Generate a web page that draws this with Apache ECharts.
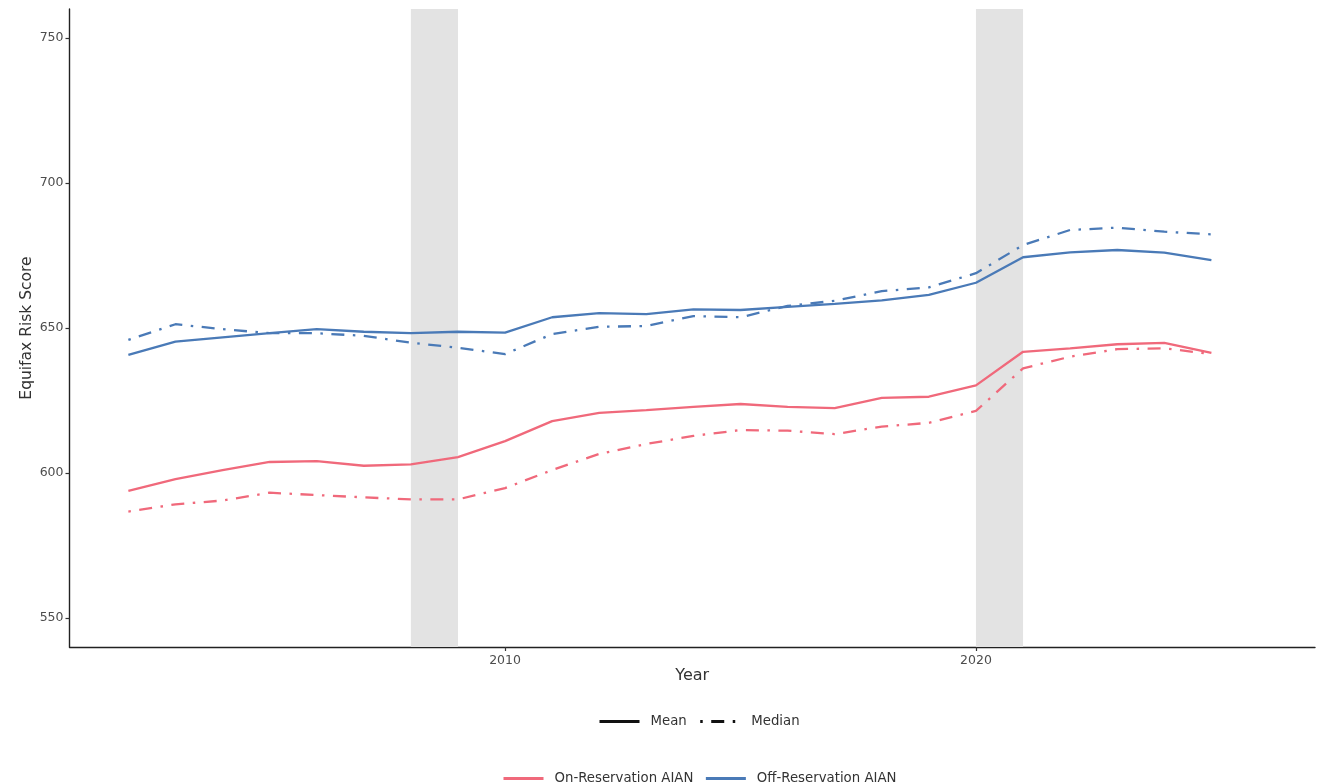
<!DOCTYPE html>
<html>
<head>
<meta charset="utf-8">
<title>Equifax Risk Score, AIAN</title>
<script src="https://cdn.jsdelivr.net/npm/echarts@6/dist/echarts.min.js"></script>
<style>
  html, body { margin: 0; padding: 0; background: #fff; }
  #chart { width: 1322px; height: 783px; }
</style>
</head>
<body>
<div id="chart"></div>
<script>
// Years covered by the panel
const years = [2002, 2003, 2004, 2005, 2006, 2007, 2008, 2009, 2010, 2011, 2012, 2013,
               2014, 2015, 2016, 2017, 2018, 2019, 2020, 2021, 2022, 2023, 2024, 2025];

// On-reservation AIAN
const onResMean   = [593.8, 597.9, 601.0, 603.8, 604.1, 602.5, 603.0, 605.5, 611.0, 617.9, 620.7, 621.7,
                     622.8, 623.8, 622.8, 622.4, 625.9, 626.3, 630.2, 641.8, 643.0, 644.4, 644.9, 641.4];
const onResMedian = [586.7, 589.2, 590.5, 593.2, 592.4, 591.6, 590.9, 590.9, 594.8, 601.0, 606.6, 610.0,
                     612.8, 614.8, 614.6, 613.4, 616.0, 617.3, 621.4, 636.1, 640.1, 642.7, 643.0, 641.0];

// Off-reservation AIAN
const offResMean   = [640.7, 645.3, 646.8, 648.2, 649.6, 648.7, 648.2, 648.7, 648.4, 653.7, 655.1, 654.8,
                      656.4, 656.2, 657.3, 658.3, 659.5, 661.4, 665.6, 674.4, 676.1, 676.9, 676.0, 673.4];
const offResMedian = [645.9, 651.3, 649.6, 648.2, 648.2, 647.3, 644.9, 643.2, 641.0, 647.9, 650.4, 650.7,
                      654.1, 653.7, 657.6, 659.4, 662.7, 664.0, 668.9, 678.6, 683.8, 684.6, 683.2, 682.3];

// Recession bands (start year, end year)
const recessions = [[2008, 2009], [2020, 2021]];

// Axis ticks
const xTicks = [2010, 2020];
const yTicks = [550, 600, 650, 700, 750];

const groupNames = ['On-Reservation AIAN', 'Off-Reservation AIAN'];
const statNames = ['Mean', 'Median'];

const RED = '#F0697B';
const BLUE = '#4A7AB7';
const DASH_DOT = [2.5, 8.5, 13, 8.5];
const LW = 2.3;

const pair = (arr) => years.map((y, i) => [y, arr[i]]);

function lineSeries(name, data, color, dashed, extra) {
  return Object.assign({
    name: name,
    type: 'line',
    data: data,
    showSymbol: false,
    symbol: 'none',
    smooth: false,
    silent: true,
    z: 3,
    itemStyle: { color: color },
    lineStyle: { color: color, width: LW, type: dashed ? DASH_DOT : 'solid' }
  }, extra || {});
}

const chart = echarts.init(document.getElementById('chart'), null, { renderer: 'canvas' });

const axisLabelStyle = { color: '#4d4d4d', fontSize: 12.5, fontFamily: 'DejaVu Sans' };
const legendText = { color: '#333', fontSize: 13.3, fontFamily: 'DejaVu Sans', padding: [0, 0, 0, 6] };
// Key entries show only the stroke, no point marker
const legendItem = { color: 'transparent', borderColor: 'transparent', borderWidth: 0, opacity: 0 };

chart.setOption({
  backgroundColor: '#ffffff',
  animation: false,
  grid: { left: 69.5, right: 7, top: 9, bottom: 136, containLabel: false },
  xAxis: {
    type: 'value',
    min: 2000.75,
    max: 2027.2,
    name: 'Year',
    nameLocation: 'middle',
    nameGap: 21,
    nameMoveOverlap: false,
    nameTextStyle: { color: '#333', fontSize: 16, fontFamily: 'DejaVu Sans' },
    axisLine: { show: true, onZero: false, lineStyle: { color: '#222', width: 1.4 } },
    axisTick: { show: true, length: 4, customValues: xTicks, lineStyle: { color: '#333', width: 1.2 } },
    axisLabel: Object.assign({ customValues: xTicks, margin: 7, formatter: (v) => String(v) }, axisLabelStyle),
    splitLine: { show: false }
  },
  yAxis: {
    type: 'value',
    min: 540,
    max: 760,
    name: 'Equifax Risk Score',
    nameLocation: 'middle',
    nameGap: 35,
    nameMoveOverlap: false,
    nameRotate: 90,
    nameTextStyle: { color: '#333', fontSize: 15.5, fontFamily: 'DejaVu Sans' },
    axisLine: { show: true, onZero: false, lineStyle: { color: '#222', width: 1.4 } },
    axisTick: { show: true, length: 4, customValues: yTicks, lineStyle: { color: '#333', width: 1.2 } },
    axisLabel: Object.assign({ customValues: yTicks, margin: 6 }, axisLabelStyle),
    splitLine: { show: false }
  },
  legend: [
    {
      data: statNames,
      left: 593,
      top: 710,
      orient: 'horizontal',
      itemWidth: 40,
      itemHeight: 14,
      itemGap: 12,
      selectedMode: false,
      itemStyle: legendItem,
      lineStyle: { width: 3 },
      textStyle: legendText
    },
    {
      data: groupNames,
      left: 497,
      top: 767,
      orient: 'horizontal',
      itemWidth: 40,
      itemHeight: 14,
      itemGap: 11,
      selectedMode: false,
      itemStyle: legendItem,
      lineStyle: { width: 3 },
      textStyle: legendText
    }
  ],
  series: [
    // Line-type key entries
    lineSeries('Mean', [], '#111', false),
    lineSeries('Median', [], '#111', true),
    // Recession shading behind the data
    {
      name: 'recessions',
      type: 'line',
      data: [],
      silent: true,
      z: 1,
      markArea: {
        silent: true,
        itemStyle: { color: '#e3e3e3' },
        data: recessions.map(([a, b]) => [{ xAxis: a }, { xAxis: b }])
      }
    },
    lineSeries(groupNames[0], pair(onResMean), RED, false),
    lineSeries(groupNames[0], pair(onResMedian), RED, true),
    lineSeries(groupNames[1], pair(offResMean), BLUE, false),
    lineSeries(groupNames[1], pair(offResMedian), BLUE, true)
  ]
});
</script>
</body>
</html>
